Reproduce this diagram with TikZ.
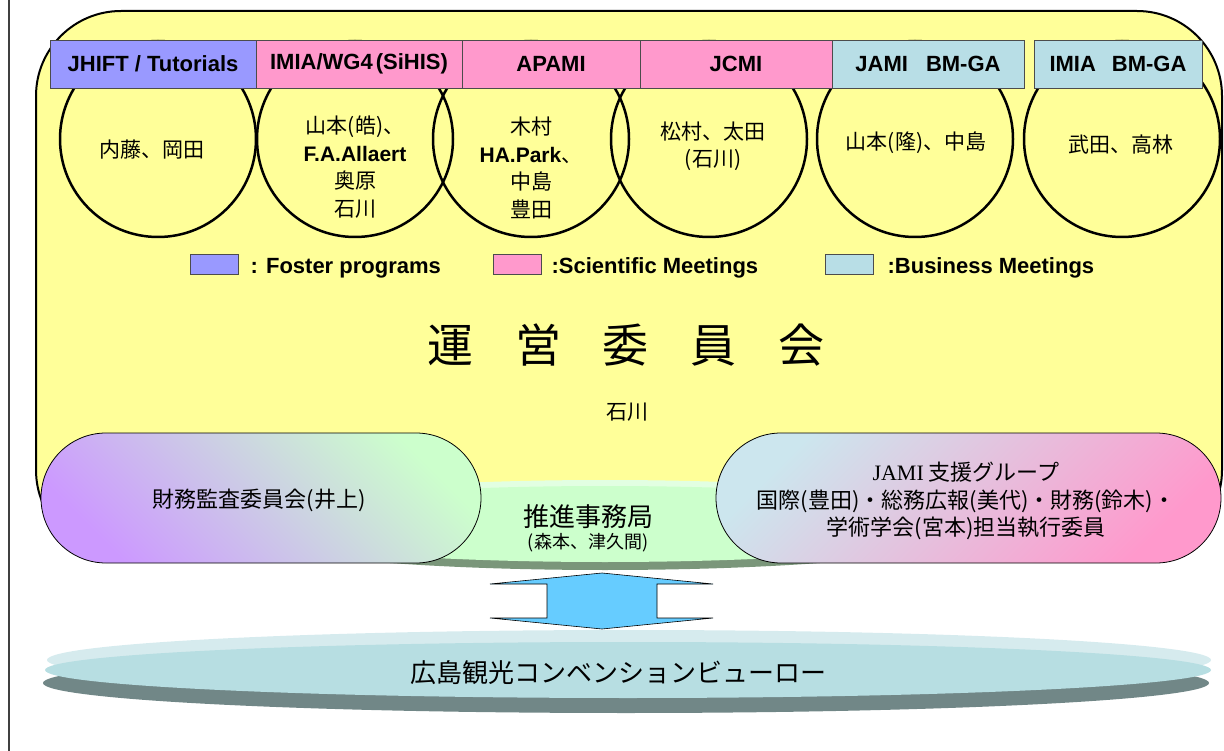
\documentclass[tikz,border=0pt]{standalone}
\usepackage{fontspec}
\setmainfont{Liberation Sans}
\newfontfamily\cjk{Noto Sans CJK JP}
\newfontfamily\tms{Liberation Serif}
\usetikzlibrary{positioning}
\definecolor{yellowbg}{HTML}{FFFF99}
\definecolor{fosterc}{HTML}{9999FF}
\definecolor{scic}{HTML}{FF99CC}
\definecolor{busc}{HTML}{B8DEE6}
\definecolor{secc}{HTML}{CCFFCC}
\definecolor{secpale}{HTML}{E2FFE2}
\definecolor{secshadow}{HTML}{7A967A}
\definecolor{arrowc}{HTML}{66CCFF}
\definecolor{bureauc}{HTML}{B7DEE2}
\definecolor{bureaupale}{HTML}{D6EBEE}
\definecolor{bureaushadow}{HTML}{718787}
\definecolor{auditp}{HTML}{CC99FF}
\definecolor{supportb}{HTML}{CCE6EE}
\newcommand\romb[1]{{\rmfamily\bfseries #1}}
\tikzset{
	hdrbox/.style={draw=black!70, line width=0.8pt, minimum height=48pt, inner sep=0pt, font=\fontsize{22}{26}\selectfont\bfseries},
	member/.style={align=center, inner sep=0pt, font=\fontsize{21}{27.5}\selectfont\cjk},
	legbox/.style={draw=black!70, line width=0.8pt, minimum width=48pt, minimum height=20pt, inner sep=0pt},
	legtext/.style={inner sep=0pt, yshift=-4pt, font=\fontsize{22}{26}\selectfont\bfseries},
	pill/.style={draw=black, line width=0.8pt, rounded corners=65pt},
	pilltext/.style={align=center, inner sep=0pt, font=\fontsize{22}{27.5}\selectfont\cjk}
}
\begin{document}
\begin{tikzpicture}[x=1pt,y=-1pt]
	\useasboundingbox (0,0) rectangle (1224,751);
	\draw[line width=1.5pt, black!75] (9,0) -- (9,751);
	\draw[line width=2pt, fill=yellowbg, rounded corners=85pt] (36,11) rectangle (1222,555);
	\foreach \cx in {158,355,531,709,915,1122}
	{
		\draw[line width=2.5pt] (\cx,139) circle[radius=98pt];
	}
	\node[hdrbox, fill=fosterc, minimum width=206pt] (hjhift) at (153,64) {JHIFT / Tutorials};
	\node[hdrbox, fill=scic, minimum width=206pt] (hsihis) at (359,64) {IMIA/WG4\hspace{3pt}(SiHIS)};
	\node[hdrbox, fill=scic, minimum width=178pt] (hapami) at (551,64) {APAMI};
	\node[hdrbox, fill=scic, minimum width=192pt] (hjcmi) at (736,64) {JCMI};
	\node[hdrbox, fill=busc, minimum width=192pt] (hjami) at (928,64) {JAMI\hspace{18pt}BM-GA};
	\node[hdrbox, fill=busc, minimum width=168pt] (himia) at (1118,64) {IMIA\hspace{16pt}BM-GA};
	\node[member] (mjhift) at (152,150) {内藤、岡田};
	\node[member] (msihis) at (355,167) {山本(皓)、\\\romb{F.A.Allaert}\\奥原\\石川};
	\node[member] (mapami) at (531,168) {木村\\\romb{HA.Park}、\\中島\\豊田};
	\node[member] (mjcmi) at (713,146) {松村、太田\\(石川)};
	\node[member] (mjami) at (916,143) {山本(隆)、中島};
	\node[member] (mimia) at (1121,145) {武田、高林};
	\node[legbox, fill=fosterc] (lfoster) at (214,264) {};
	\node[legtext, right=12pt of lfoster] (tfoster) {: Foster programs};
	\node[legbox, fill=scic] (lsci) at (517,264) {};
	\node[legtext, right=10pt of lsci] (tsci) {:Scientific Meetings};
	\node[legbox, fill=busc] (lbus) at (849,264) {};
	\node[legtext, right=14pt of lbus] (tbus) {:Business Meetings};
	\node[font=\fontsize{46}{50}\selectfont\cjk] (title) at (626,345) {運\hspace{42pt}営\hspace{42pt}委\hspace{42pt}員\hspace{42pt}会};
	\node[member] (chair) at (627,412) {石川};
	\fill[secshadow] (605,530) ellipse[x radius=380pt, y radius=40pt];
	\fill[secpale] (605,520) ellipse[x radius=380pt, y radius=40pt];
	\fill[secc] (605,524) ellipse[x radius=380pt, y radius=38pt];
	\node[pilltext, font=\fontsize{26}{30}\selectfont\cjk] (sec) at (588,517) {推進事務局};
	\node[pilltext, font=\fontsize{18}{22}\selectfont\cjk] (secmem) at (588,543) {(森本、津久間)};
	\draw[pill, top color=secc, bottom color=auditp, shading angle=-45] (41,433) rectangle (481,563);
	\node[pilltext] (audit) at (259,500) {財務監査委員会(井上)};
	\draw[pill, top color=supportb, bottom color=scic, shading angle=45] (716,433) rectangle (1221,563);
	\node[pilltext] (support) at (966,501) {{\tms JAMI} 支援グループ\\国際(豊田)・総務広報(美代)・財務(鈴木)・\\学術学会(宮本)担当執行委員};
	\draw[fill=arrowc, draw=black, line width=0.6pt] (602,573) -- (713,584) -- (657,584) -- (657,618) -- (713,618) -- (602,629) -- (490,618) -- (547,618) -- (547,584) -- (490,584) -- cycle;
	\fill[bureaushadow] (626,683) ellipse[x radius=583pt, y radius=30pt];
	\fill[bureaupale] (629,660) ellipse[x radius=582pt, y radius=30pt];
	\fill[bureauc] (628,670) ellipse[x radius=583pt, y radius=28pt];
	\node[pilltext, font=\fontsize{26}{30}\selectfont\cjk] (bureau) at (618,673) {広島観光コンベンションビューロー};
\end{tikzpicture}
\end{document}
